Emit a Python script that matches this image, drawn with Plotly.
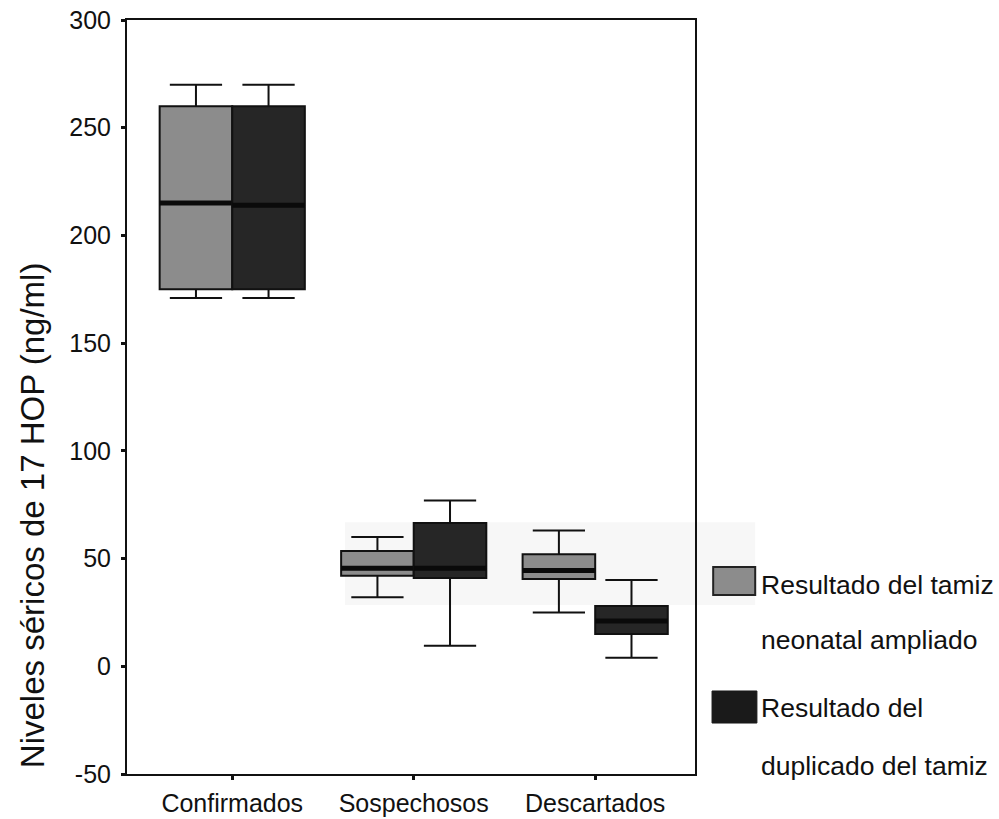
import plotly.graph_objects as go

categories = ["Confirmados", "Sospechosos", "Descartados"]

# Serie 1: Resultado del tamiz neonatal ampliado
s1_low = [171, 32, 25]
s1_q1 = [175, 42, 40.5]
s1_med = [215, 45.5, 44.5]
s1_q3 = [260, 53.5, 52]
s1_up = [270, 60, 63]

# Serie 2: Resultado del duplicado del tamiz
s2_low = [171, 9.5, 4]
s2_q1 = [175, 41, 15]
s2_med = [214, 45.5, 21]
s2_q3 = [260, 66.5, 28]
s2_up = [270, 77, 40]

y_ticks = [-50, 0, 50, 100, 150, 200, 250, 300]

legend_lines_1 = ["Resultado del tamiz", "neonatal ampliado"]
legend_lines_2 = ["Resultado del", "duplicado del tamiz"]
y_title = "Niveles séricos de 17 HOP (ng/ml)"

GRAY = "#8c8c8c"
DARK = "#262626"
FONT = "Liberation Sans, Arial, sans-serif"

fig = go.Figure()

def add_box(name, low, q1, med, q3, up, fill, grp):
    fig.add_trace(go.Box(
        x=categories, lowerfence=low, q1=q1, median=med, q3=q3, upperfence=up,
        name=name, fillcolor=fill, line=dict(color="#111111", width=2),
        whiskerwidth=0.72, offsetgroup=grp, alignmentgroup="g",
        showlegend=False, hoverinfo="skip", boxpoints=False))
    # thick median overlay
    fig.add_trace(go.Box(
        x=categories, lowerfence=med, q1=med, median=med, q3=med, upperfence=med,
        name=name + " mediana", fillcolor="rgba(0,0,0,0)",
        line=dict(color="#0a0a0a", width=5), whiskerwidth=0,
        offsetgroup=grp, alignmentgroup="g",
        showlegend=False, hoverinfo="skip", boxpoints=False))

add_box("Resultado del tamiz neonatal ampliado", s1_low, s1_q1, s1_med, s1_q3, s1_up, GRAY, "a")
add_box("Resultado del duplicado del tamiz", s2_low, s2_q1, s2_med, s2_q3, s2_up, DARK, "b")

fig.update_layout(
    width=999, height=819,
    margin=dict(l=127, r=304, t=20, b=45, autoexpand=False),
    paper_bgcolor="white", plot_bgcolor="white",
    boxmode="group", boxgap=0.2, boxgroupgap=0,
    font=dict(family=FONT, color="#111111"),
    showlegend=False,
    xaxis=dict(
        type="category", categoryorder="array", categoryarray=categories,
        range=[-0.58, 2.55], showgrid=False, zeroline=False, automargin=False,
        showline=True, linecolor="#111111", linewidth=2, mirror=True,
        ticks="outside", ticklen=4, tickwidth=3, tickcolor="#111111",
        tickfont=dict(size=25, family=FONT, color="#111111"),
        ticklabelstandoff=2,
    ),
    yaxis=dict(
        range=[-50, 300], tickvals=y_ticks, ticktext=[str(v) for v in y_ticks],
        showgrid=False, zeroline=False, automargin=False,
        showline=True, linecolor="#111111", linewidth=2, mirror=True,
        ticks="outside", ticklen=4, tickwidth=3, tickcolor="#111111",
        tickfont=dict(size=25, family=FONT, color="#111111"),
        ticklabelstandoff=5,
    ),
)

# faint scan band
fig.add_shape(type="rect", xref="paper", yref="paper", x0=0.384, x1=1.106,
              y0=0.224, y1=0.334, fillcolor="#f7f7f7", line=dict(width=0), layer="below")

# legend
fig.add_shape(type="rect", xref="paper", yref="paper", x0=1.032, x1=1.106,
              y0=0.2374, y1=0.2745, fillcolor=GRAY, line=dict(color="#222222", width=2))
fig.add_shape(type="rect", xref="paper", yref="paper", x0=1.030, x1=1.109,
              y0=0.0676, y1=0.1101, fillcolor="#1a1a1a", line=dict(color="#1a1a1a", width=1))

legend_y = [0.2507, 0.1777, 0.0875, 0.0106]
for txt, yy in zip(legend_lines_1 + legend_lines_2, legend_y):
    fig.add_annotation(text=txt, xref="paper", yref="paper", x=1.113, y=yy,
                       xanchor="left", yanchor="middle", showarrow=False,
                       font=dict(size=26.5, family=FONT, color="#111111"))

fig.add_annotation(text=y_title, xref="paper", yref="paper", x=-0.167, y=0.3435,
                   xanchor="center", yanchor="middle", textangle=-90, showarrow=False,
                   font=dict(size=33, family=FONT, color="#111111"))

fig.write_html("out.html", config={"displayModeBar": False},
               post_script="document.body.style.margin='0';document.body.style.overflow='hidden';")
